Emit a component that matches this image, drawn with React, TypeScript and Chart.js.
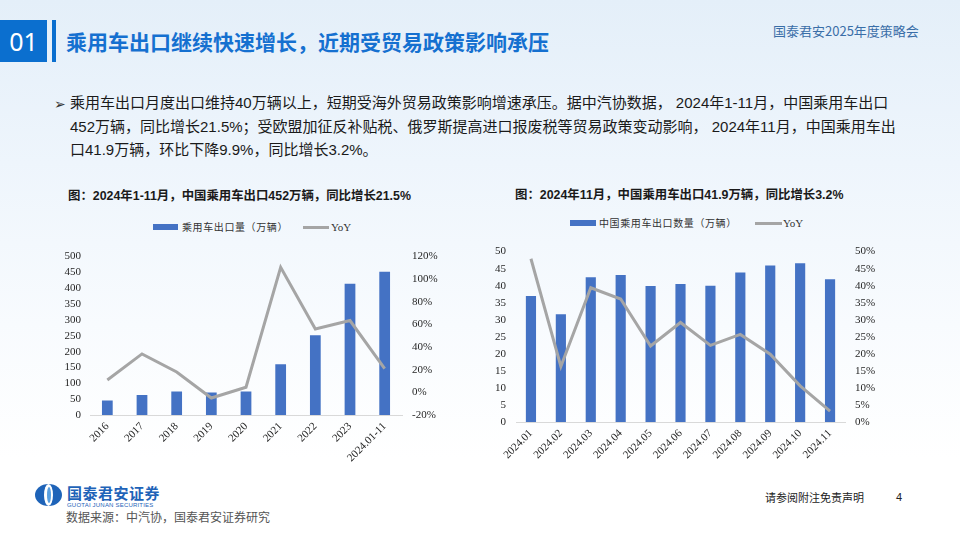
import React, { useEffect, useRef } from "react";
import { Chart, registerables } from "chart.js";

Chart.register(...registerables);

// ---------- Data ----------
const yearCategories = ["2016", "2017", "2018", "2019", "2020", "2021", "2022", "2023", "2024.01-11"];
const yearExports = [46, 63, 74, 71, 74, 160, 252, 414, 452];
const yearYoY = [11, 34, 18, -5, 4.5, 110.5, 56, 63.5, 21];
const yearLeftTicks = { min: 0, max: 500, step: 50 };
const yearRightTicks = { min: -20, max: 120, step: 20 };

const monthCategories = ["2024.01", "2024.02", "2024.03", "2024.04", "2024.05", "2024.06", "2024.07", "2024.08", "2024.09", "2024.10", "2024.11"];
const monthExports = [37.0, 31.6, 42.5, 43.1, 39.9, 40.5, 40.0, 43.9, 45.9, 46.6, 41.9];
const monthYoY = [47.9, 16.3, 39.4, 36.1, 22.3, 29.2, 22.5, 25.7, 19.9, 10.6, 3.2];
const monthLeftTicks = { min: 0, max: 50, step: 5 };
const monthRightTicks = { min: 0, max: 50, step: 5 };

const BLUE = "#4472C4";
const GRAY = "#A5A5A5";
const TICK_FONT = { family: '"Liberation Serif", "Times New Roman", serif', size: 11 };
const TICK_COLOR = "#262626";

type Cfg = {
  labels: string[];
  bars: number[];
  line: number[];
  left: { min: number; max: number; step: number };
  right: { min: number; max: number; step: number };
  padTop: number;
  leftW: number;
  rightW: number;
  xH: number;
  leftPad: number;
  rightPad: number;
  barFrac: number;
};

function ComboChart({ cfg, width, height }: { cfg: Cfg; width: number; height: number }) {
  const ref = useRef<HTMLCanvasElement | null>(null);
  useEffect(() => {
    if (!ref.current) return;
    const chart = new Chart(ref.current, {
      type: "bar",
      data: {
        labels: cfg.labels,
        datasets: [
          {
            type: "line",
            label: "YoY",
            data: cfg.line,
            yAxisID: "y1",
            borderColor: GRAY,
            backgroundColor: GRAY,
            borderWidth: 3,
            pointRadius: 0,
            tension: 0,
            order: 0,
          } as any,
          {
            type: "bar",
            label: "bar",
            data: cfg.bars,
            yAxisID: "y",
            backgroundColor: BLUE,
            barPercentage: cfg.barFrac,
            categoryPercentage: 1,
            order: 1,
          } as any,
        ],
      },
      options: {
        responsive: false,
        maintainAspectRatio: false,
        animation: false,
        layout: { padding: { top: cfg.padTop, left: 0, right: 0, bottom: 0 } },
        plugins: { legend: { display: false }, tooltip: { enabled: false } },
        scales: {
          x: {
            grid: { display: false, drawTicks: false },
            border: { display: true, color: "#d9d9d9", width: 1 },
            ticks: {
              font: TICK_FONT,
              color: TICK_COLOR,
              minRotation: 45,
              maxRotation: 45,
              padding: 5,
              autoSkip: false,
            },
            afterFit: (s: any) => {
              s.height = cfg.xH;
            },
          },
          y: {
            position: "left",
            min: cfg.left.min,
            max: cfg.left.max,
            grid: { display: false, drawTicks: false },
            border: { display: false },
            ticks: { stepSize: cfg.left.step, font: TICK_FONT, color: TICK_COLOR, padding: cfg.leftPad, autoSkip: false },
            afterFit: (s: any) => {
              s.width = cfg.leftW;
            },
          },
          y1: {
            position: "right",
            min: cfg.right.min,
            max: cfg.right.max,
            grid: { display: false, drawTicks: false },
            border: { display: false },
            ticks: {
              stepSize: cfg.right.step,
              font: TICK_FONT,
              color: TICK_COLOR,
              padding: cfg.rightPad,
              autoSkip: false,
              callback: (v: any) => `${v}%`,
            },
            afterFit: (s: any) => {
              s.width = cfg.rightW;
            },
          },
        },
      } as any,
    });
    return () => chart.destroy();
  }, []);
  return <canvas ref={ref} width={width} height={height} style={{ width, height, display: "block" }} />;
}

const abs = (left: number, top: number, extra: React.CSSProperties = {}): React.CSSProperties => ({
  position: "absolute",
  left,
  top,
  whiteSpace: "nowrap",
  ...extra,
});

const CJK = '"Noto Sans CJK SC", "Liberation Sans", sans-serif';
const TEXT = '"Liberation Sans", "Noto Sans CJK SC", sans-serif';

export default function App() {
  const cfg1: Cfg = {
    labels: yearCategories,
    bars: yearExports,
    line: yearYoY,
    left: yearLeftTicks,
    right: yearRightTicks,
    padTop: 12,
    leftW: 45,
    rightW: 53,
    xH: 65,
    leftPad: 9,
    rightPad: 10,
    barFrac: 0.31,
  };
  const cfg2: Cfg = {
    labels: monthCategories,
    bars: monthExports,
    line: monthYoY,
    left: monthLeftTicks,
    right: monthRightTicks,
    padTop: 13,
    leftW: 41,
    rightW: 40,
    xH: 48,
    leftPad: 10,
    rightPad: 10,
    barFrac: 0.34,
  };

  return (
    <div
      style={{
        position: "fixed",
        left: 0,
        top: 0,
        width: 960,
        height: 540,
        overflow: "hidden",
        background: "linear-gradient(180deg, #e4eff9 0%, #eef5fc 30%, #f8fbfe 60%, #ffffff 85%)",
        fontFamily: CJK,
        color: "#1a1a1a",
      }}
    >
      {/* Header */}
      <div style={abs(0, 20, { width: 47, height: 42, background: "#0B6FCF", color: "#fff", fontFamily: '"Noto Sans", sans-serif', fontSize: 25, lineHeight: "42px", textAlign: "center" })}>01</div>
      <div style={abs(52, 20, { width: 4, height: 42, background: "#0B6FCF" })} />
      <div style={abs(66, 29, { fontSize: 21, lineHeight: "24px", fontWeight: 700, color: "#1570D0" })}>
        乘用车出口继续快速增长，近期受贸易政策影响承压
      </div>
      <div style={abs(773, 23, { fontSize: 13, lineHeight: "16px", color: "#3a6ea8" })}>国泰君安2025年度策略会</div>

      {/* Bullet text */}
      <div style={abs(54, 94, { fontSize: 14, lineHeight: "18px", color: "#333" })}>➢</div>
      <div style={abs(70, 91, { fontSize: 15, lineHeight: "23.5px", color: "#1a1a1a", fontFamily: TEXT })}>
        <div>乘用车出口月度出口维持40万辆以上，短期受海外贸易政策影响增速承压。据中汽协数据， 2024年1-11月，中国乘用车出口</div>
        <div>452万辆，同比增长21.5%；受欧盟加征反补贴税、俄罗斯提高进口报废税等贸易政策变动影响， 2024年11月，中国乘用车出</div>
        <div>口41.9万辆，环比下降9.9%，同比增长3.2%。</div>
      </div>

      {/* Chart titles */}
      <div style={abs(68, 188, { fontSize: 12.4, lineHeight: "16px", fontWeight: 700, color: "#1a1a1a", fontFamily: TEXT })}>
        图：2024年1-11月，中国乘用车出口452万辆，同比增长21.5%
      </div>
      <div style={abs(515, 187, { fontSize: 12.4, lineHeight: "16px", fontWeight: 700, color: "#1a1a1a", fontFamily: TEXT })}>
        图：2024年11月，中国乘用车出口41.9万辆，同比增长3.2%
      </div>

      {/* Legend chart 1 */}
      <div style={abs(153, 224, { width: 25, height: 6, background: BLUE })} />
      <div style={abs(182, 220, { fontSize: 10, lineHeight: "14px", letterSpacing: 0.6, color: "#333" })}>乘用车出口量（万辆）</div>
      <div style={abs(303, 226, { width: 26, height: 2.5, background: GRAY })} />
      <div style={abs(331, 220, { fontSize: 11, lineHeight: "14px", color: "#333", fontFamily: '"Liberation Serif", serif' })}>YoY</div>

      {/* Legend chart 2 */}
      <div style={abs(570, 220, { width: 26, height: 6, background: BLUE })} />
      <div style={abs(599, 216, { fontSize: 10, lineHeight: "14px", letterSpacing: 0.6, color: "#333" })}>中国乘用车出口数量（万辆）</div>
      <div style={abs(755, 222, { width: 27, height: 2.5, background: GRAY })} />
      <div style={abs(783, 216, { fontSize: 11, lineHeight: "14px", color: "#333", fontFamily: '"Liberation Serif", serif' })}>YoY</div>

      {/* Charts */}
      <div style={abs(45, 240)}>
        <ComboChart cfg={cfg1} width={410} height={240} />
      </div>
      <div style={abs(475, 235)}>
        <ComboChart cfg={cfg2} width={410} height={235} />
      </div>

      {/* Footer */}
      <div style={abs(35, 484, { width: 27, height: 22, borderRadius: "50%", background: "#1E63B8", overflow: "hidden" })}>
        <div style={{ position: "absolute", left: 9, top: 0, width: 9, height: 22, borderRadius: "50%", background: "#ffffff" }} />
        <div style={{ position: "absolute", left: 11.5, top: 3, width: 4, height: 16, borderRadius: "50%", background: "#5aa0e0" }} />
      </div>
      <div style={abs(67, 484, { fontSize: 15, lineHeight: "18px", fontWeight: 700, color: "#1E63B8", letterSpacing: 0.5 })}>国泰君安证券</div>
      <div style={abs(67, 502, { fontSize: 6, lineHeight: "7px", color: "#1E63B8", fontFamily: '"Liberation Sans", sans-serif', letterSpacing: 0.2 })}>
        GUOTAI JUNAN SECURITIES
      </div>
      <div style={abs(66, 509, { fontSize: 12, lineHeight: "16px", color: "#555" })}>数据来源：中汽协，国泰君安证券研究</div>
      <div style={abs(765, 490, { fontSize: 11, lineHeight: "14px", color: "#222" })}>请参阅附注免责声明</div>
      <div style={abs(896, 490, { fontSize: 11, lineHeight: "14px", color: "#222", fontFamily: TEXT })}>4</div>
    </div>
  );
}
